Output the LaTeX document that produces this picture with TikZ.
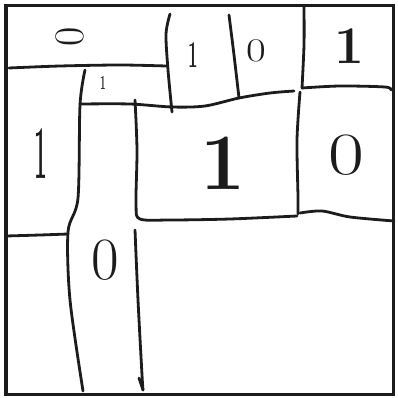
\documentclass[tikz,border=0pt]{standalone}
\usepackage{tikz}
\usetikzlibrary{calc}
\definecolor{ink}{RGB}{28,28,28}
\tikzset{
  frame/.style={ink,line width=3.8pt},
  pen/.style={ink,line width=2.8pt,line cap=round,line join=round},
  digit/.style={ink,inner sep=0pt,font=\fontsize{#1}{#1}\selectfont},
  heavy/.style={font=\fontsize{#1}{#1}\selectfont\bfseries}
}

\begin{document}
\begin{tikzpicture}[x=1pt,y=-1pt]
  \useasboundingbox (0,0) rectangle (397,398);
  % outer square
  \draw[frame] (6,5.5) rectangle (393.5,394.5);
  % top band
  \draw[pen] plot[smooth] coordinates {(9,68) (60,66) (120,65) (166,66)};
  \draw[pen] plot[smooth] coordinates {(170,14) (166,34) (168,70) (172,112)};
  \draw[pen] plot[smooth] coordinates {(229,15) (234,55) (239,98)};
  \draw[pen] plot[smooth] coordinates {(304,7) (304,45) (302,88)};
  \draw[pen] plot[smooth] coordinates {(302,88) (340,86) (385,87) (391,90)};
  \draw[pen] plot[smooth] coordinates {(80,104) (130,104) (172,107) (205,106) (239,98) (270,93) (294,91)};
  % middle box
  \draw[pen] plot[smooth] coordinates {(135,100) (137,150) (136,205) (140,219) (170,220) (230,219) (297,216)};
  \draw[pen] plot[smooth] coordinates {(300,92) (297,140) (298,197) (298,214)};
  \draw[pen] plot[smooth] coordinates {(300,213) (322,211) (350,217) (394,221)};
  % left column
  \draw[pen] plot[smooth] coordinates {(85,70) (80,105) (78,198) (68,232) (70,300) (83,391)};
  \draw[pen] plot[smooth] coordinates {(6,236) (40,235) (68,234)};
  \draw[pen] plot[smooth] coordinates {(135,230) (138,300) (142,375) (143,390)};
  \draw[pen] (139,378) -- (143,390);
  % digits
  \node[digit=42,rotate=90] (z1) at (70,37) {0};
  \node[digit,heavy=20,xscale=.5] (o1) at (103,83) {1};
  \node[digit,heavy=76,xscale=.3] (o2) at (41,154) {1};
  \node[digit,heavy=38,xscale=.45] (o3) at (193,55) {1};
  \node[digit=33,xscale=1.3] (z2) at (256,51) {0};
  \node[digit,heavy=53] (o4) at (349,46) {1};
  \node[digit,heavy=80] (o5) at (223,163) {1};
  \node[digit=60,xscale=1.3] (z3) at (346,155) {0};
  \node[digit=60] (z4) at (105,260) {0};
\end{tikzpicture}
\end{document}
